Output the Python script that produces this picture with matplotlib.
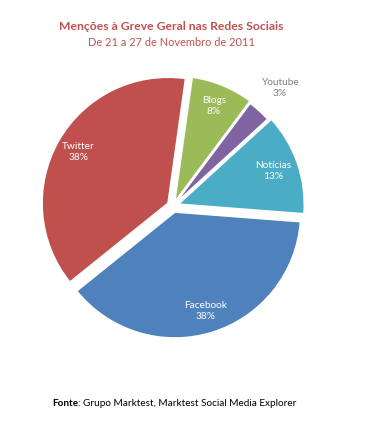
import numpy as np
import matplotlib
matplotlib.use("Agg")
import matplotlib.pyplot as plt

# Menções por rede social (ordem no sentido dos ponteiros, a partir do topo)
sources = ["Blogs", "Youtube", "Notícias", "Facebook", "Twitter"]
shares = [8, 3, 13, 38, 38]
colors = ["#9BBB59", "#8064A2", "#4BACC6", "#4F81BD", "#C0504D"]
explode = [0.035, 0.02, 0.045, 0.05, 0.045]
label_dist = [0.82, 1.24, 0.80, 0.82, 0.82]
label_color = ["white", "#7F7F7F", "white", "white", "white"]

plt.rcParams["font.family"] = ["Lato", "DejaVu Sans"]

W, H = 376, 424
fig = plt.figure(figsize=(W / 100, H / 100), dpi=100)
ax = fig.add_axes([0, 0, 1, 1])

R = 126.0           # raio em px
cx, cy = 173, 206   # centro em px (a partir do topo)

wedges, _ = ax.pie(shares, colors=colors, explode=explode, startangle=82,
                   counterclock=False, radius=1,
                   wedgeprops=dict(edgecolor="white", linewidth=1.2))

for w, name, val, d, c in zip(wedges, sources, shares, label_dist, label_color):
    mid = np.deg2rad((w.theta1 + w.theta2) / 2)
    x0, y0 = w.center
    ax.text(x0 + d * np.cos(mid), y0 + d * np.sin(mid), f"{name}\n{val}%",
            ha="center", va="center", color=c, fontsize=7.3, linespacing=1.3)

ax.set_xlim(-cx / R, (W - cx) / R)
ax.set_ylim(-(H - cy) / R, cy / R)
ax.set_aspect("equal")
ax.axis("off")

fig.text(171 / W, 1 - 27 / H, "Menções à Greve Geral nas Redes Sociais",
         ha="center", va="center", color="#C0504D", fontsize=8.7, fontweight="bold")
fig.text(171 / W, 1 - 43 / H, "De 21 a 27 de Novembro de 2011",
         ha="center", va="center", color="#C0504D", fontsize=7.9)

t1 = fig.text(52 / W, 1 - 406 / H, "Fonte", ha="left", va="baseline",
              fontsize=7.2, fontweight="bold", color="black")
fig.canvas.draw()
bb = t1.get_window_extent()
fig.text(bb.x1 / W, 1 - 406 / H, ": Grupo Marktest, Marktest Social Media Explorer",
         fontsize=7.2, color="black", va="baseline", ha="left")

fig.savefig("out.png", dpi=100, facecolor="white")
